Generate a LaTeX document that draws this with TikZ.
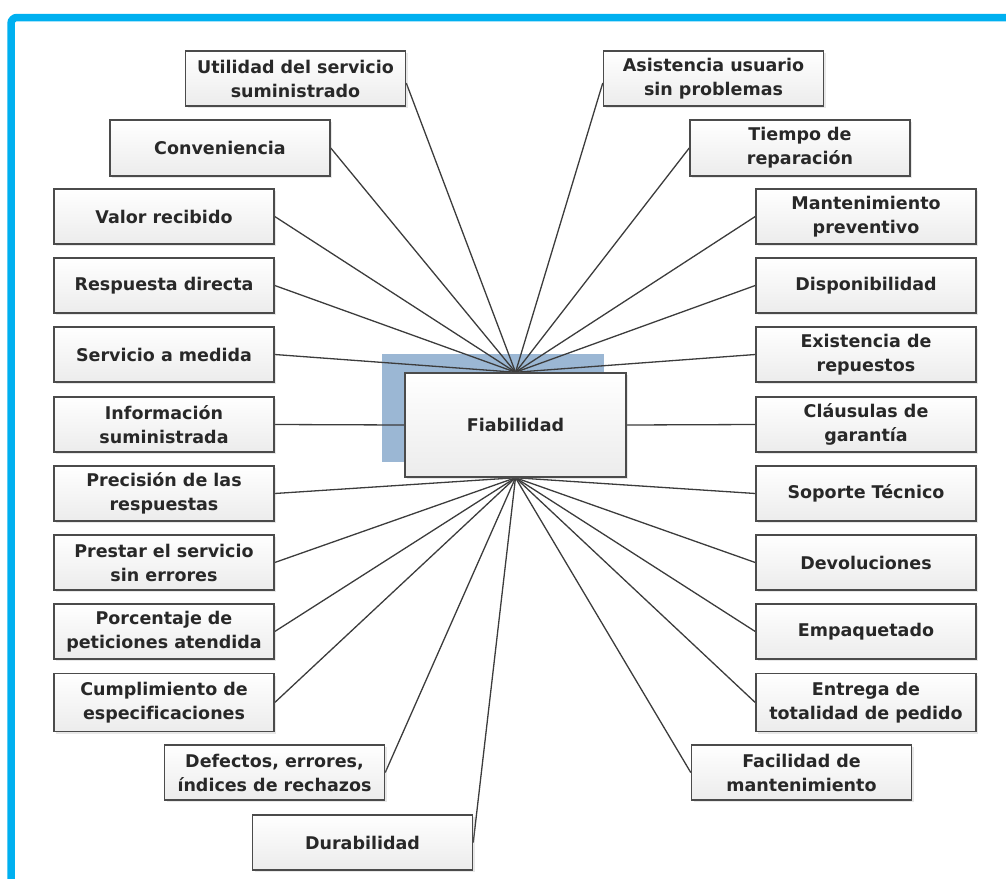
\documentclass[tikz,border=0pt]{standalone}
\usepackage{fontspec}
\setmainfont[Ligatures=NoCommon]{DejaVu Sans}
\usetikzlibrary{shadows}
\definecolor{frameblue}{RGB}{0,176,240}
\definecolor{backblue}{RGB}{155,183,212}
\definecolor{edgegray}{RGB}{75,75,75}
\definecolor{linkgray}{RGB}{60,60,60}
\definecolor{textgray}{RGB}{40,40,40}
\pgfdeclarelayer{accent}
\pgfdeclarelayer{links}
\pgfsetlayers{accent,links,main}
\tikzset{
  item/.style={draw=edgegray, line width=1.5pt, top color=white, bottom color=gray!15,
    drop shadow={opacity=0.18, shadow xshift=2pt, shadow yshift=-2pt},
    minimum width=220pt, minimum height=55pt, inner sep=0pt, align=center,
    text=textgray, font=\fontsize{17.5pt}{24pt}\selectfont\bfseries},
  link/.style={draw=linkgray, line width=1.3pt},
}
\begin{document}
\begin{tikzpicture}[x=1pt,y=-1pt]
\useasboundingbox (0,0) rectangle (1006,878);
% outer frame
\draw[frameblue, line width=7.5pt, rounded corners=6pt] (11,882) -- (11,17.5) -- (1012,17.5);
% central box
\node[item, minimum width=221pt, minimum height=104pt] (fia) at (515.5,425) {Fiabilidad};
% left boxes
\node[item] (util) at (295.5,78.5) {Utilidad del servicio\\suministrado};
\node[item, minimum height=56pt] (conv) at (220,148) {Conveniencia};
\node[item] (valor) at (164,216.5) {Valor recibido};
\node[item] (resp) at (164,285.5) {Respuesta directa};
\node[item] (serv) at (164,354.5) {Servicio a medida};
\node[item] (info) at (164,424.5) {Información\\suministrada};
\node[item] (prec) at (164,493.5) {Precisión de las\\respuestas};
\node[item] (prest) at (164,562.5) {Prestar el servicio\\sin errores};
\node[item] (porc) at (164,631.5) {Porcentaje de\\peticiones atendida};
\node[item, minimum height=58pt] (cump) at (164,702.5) {Cumplimiento de\\especificaciones};
\node[item] (defe) at (274.5,772.5) {Defectos, errores,\\índices de rechazos};
\node[item] (dura) at (362.5,842.5) {Durabilidad};
% right boxes
\node[item] (asis) at (713.5,78.5) {Asistencia usuario\\sin problemas};
\node[item, minimum height=56pt] (tiem) at (800,148) {Tiempo de\\reparación};
\node[item] (mant) at (866,216.5) {Mantenimiento\\preventivo};
\node[item] (disp) at (866,285.5) {Disponibilidad};
\node[item] (exis) at (866,354.5) {Existencia de\\repuestos};
\node[item] (clau) at (866,424.5) {Cláusulas de\\garantía};
\node[item] (sopo) at (866,493.5) {Soporte Técnico};
\node[item] (devo) at (866,562.5) {Devoluciones};
\node[item] (empa) at (866,631.5) {Empaquetado};
\node[item, minimum height=58pt] (entr) at (866,702.5) {Entrega de\\totalidad de pedido};
\node[item] (faci) at (801.5,772.5) {Facilidad de\\mantenimiento};
% accent block behind the central box
\begin{pgfonlayer}{accent}
\fill[backblue] ([xshift=-22pt,yshift=18pt]fia.north west) rectangle ([xshift=-23pt,yshift=16pt]fia.south east);
\end{pgfonlayer}
% links fanning out from the central box
\begin{pgfonlayer}{links}
\foreach \n in {conv,valor,resp,serv}
  \draw[link] (fia.north) -- (\n.east);
\foreach \n in {tiem,mant,disp,exis}
  \draw[link] (fia.north) -- (\n.west);
\draw[link] (fia.north) -- ([yshift=-4.5pt]util.east);
\draw[link] (fia.north) -- ([yshift=-4.5pt]asis.west);
\draw[link] (fia.west) -- (info.east);
\draw[link] (fia.east) -- (clau.west);
\foreach \n in {prec,prest,porc,cump,defe,dura}
  \draw[link] (fia.south) -- (\n.east);
\foreach \n in {sopo,devo,empa,entr,faci}
  \draw[link] (fia.south) -- (\n.west);
\end{pgfonlayer}
\end{tikzpicture}
\end{document}
